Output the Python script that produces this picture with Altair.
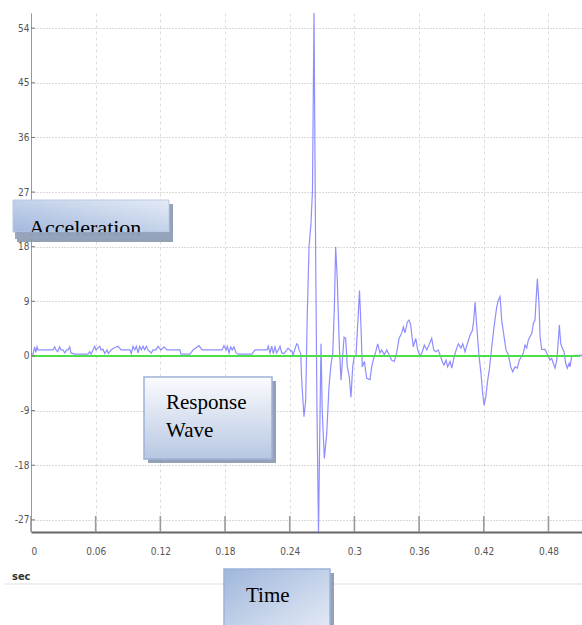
import altair as alt
import pandas as pd

# ---------------- data ----------------
time_s = [
    0.0000, 0.0019, 0.0034, 0.0044, 0.0056, 0.0065, 0.0204, 0.0220, 0.0232, 0.0248,
    0.0266, 0.0278, 0.0297, 0.0313, 0.0331, 0.0343, 0.0359, 0.0371, 0.0405, 0.0510,
    0.0529, 0.0545, 0.0557, 0.0575, 0.0591, 0.0603, 0.0619, 0.0637, 0.0649, 0.0668,
    0.0684, 0.0705, 0.0717, 0.0742, 0.0770, 0.0807, 0.0835, 0.0918, 0.0930, 0.0946,
    0.0962, 0.0977, 0.0993, 0.1008, 0.1023, 0.1039, 0.1054, 0.1070, 0.1085, 0.1116,
    0.1132, 0.1160, 0.1178, 0.1206, 0.1234, 0.1262, 0.1382, 0.1391, 0.1475, 0.1503,
    0.1558, 0.1586, 0.1772, 0.1790, 0.1809, 0.1821, 0.1837, 0.1852, 0.1867, 0.1883,
    0.1902, 0.1920, 0.2050, 0.2078, 0.2190, 0.2201, 0.2217, 0.2233, 0.2248, 0.2263,
    0.2279, 0.2294, 0.2310, 0.2326, 0.2347, 0.2384, 0.2412,
    0.2421, 0.2430, 0.2449, 0.2465, 0.2477, 0.2486, 0.2502, 0.2511, 0.2532, 0.2548,
    0.2563, 0.2579, 0.2597, 0.2611, 0.2625, 0.2641, 0.2653, 0.2667, 0.2681, 0.2690,
    0.2702, 0.2721, 0.2743, 0.2764, 0.2783, 0.2799, 0.2814, 0.2826, 0.2841, 0.2860,
    0.2876, 0.2891, 0.2904, 0.2919, 0.2934, 0.2953, 0.2968, 0.2984, 0.2999, 0.3015,
    0.3036, 0.3047, 0.3061, 0.3073, 0.3092, 0.3114, 0.3145, 0.3160, 0.3175, 0.3198,
    0.3216, 0.3237, 0.3253, 0.3277, 0.3300, 0.3321, 0.3346, 0.3370, 0.3392, 0.3414,
    0.3439, 0.3454, 0.3469, 0.3491, 0.3506, 0.3522, 0.3534, 0.3546, 0.3569, 0.3587,
    0.3609, 0.3630, 0.3648, 0.3671, 0.3692, 0.3717, 0.3736, 0.3757, 0.3776, 0.3794,
    0.3815, 0.3831, 0.3850, 0.3865, 0.3887, 0.3903, 0.3927, 0.3949, 0.3964, 0.3989,
    0.4005, 0.4026, 0.4047, 0.4072, 0.4094, 0.4107, 0.4119, 0.4135, 0.4156, 0.4174,
    0.4190, 0.4202, 0.4218, 0.4237, 0.4251, 0.4274, 0.4295, 0.4320, 0.4335, 0.4351,
    0.4366, 0.4388, 0.4406, 0.4428, 0.4450, 0.4468, 0.4490, 0.4511, 0.4530, 0.4552,
    0.4567, 0.4583, 0.4598, 0.4613, 0.4629, 0.4645, 0.4660, 0.4675, 0.4685, 0.4697,
    0.4712, 0.4722, 0.4737, 0.4768, 0.4784, 0.4799, 0.4814, 0.4830, 0.4845, 0.4861,
    0.4877, 0.4891, 0.4901, 0.4914, 0.4929, 0.4944, 0.4960, 0.4975, 0.4991, 0.5000,
    0.5016, 0.5046, 0.5111,
]
accel = [
    0.3, 0.3, 1.5, 0.6, 1.5, 1.0, 1.0, 1.5, 1.0, 0.7,
    1.5, 1.0, 1.0, 0.5, 1.0, 1.0, 1.5, 0.5, 0.3, 0.3,
    0.3, 0.7, 0.3, 1.0, 1.6, 1.0, 1.3, 1.6, 1.0, 1.1,
    0.4, 1.0, 0.4, 1.0, 1.3, 1.6, 1.0, 1.0, 0.4, 1.6,
    1.0, 1.6, 0.5, 1.6, 1.0, 1.6, 1.0, 1.6, 1.0, 0.5,
    1.0, 1.0, 1.6, 1.0, 1.5, 1.0, 1.0, 0.3, 0.3, 1.0,
    1.7, 1.0, 1.0, 1.7, 1.0, 1.6, 0.5, 1.5, 1.0, 1.5,
    0.5, 0.3, 0.3, 1.0, 1.0, 1.6, 0.5, 1.6, 0.4, 1.5,
    0.5, 1.0, 1.6, 0.5, 0.4, 1.3, 0.8,
    0.8, 0.1, 1.2, 2.0, 1.8, 1.0, 0.4, -4.0, -10.0, -7.3,
    7.0, 18.0, 21.8, 27.3, 56.5, 15.3, -9.5, -29.0, -9.5, 2.0,
    -9.5, -16.9, -12.8, -5.1, -1.3, 0.4, 8.1, 18.0, 12.5, 1.5,
    -4.0, 0.0, 3.1, 2.9, -1.8, -3.5, -6.8, -1.8, 0.0, 0.1,
    7.0, 10.8, 4.8, -1.8, -0.9, -3.7, -3.9, -1.8, -0.7, 0.7,
    2.0, 0.5, 1.0, 0.2, 1.0, 0.2, -0.7, -0.9, 0.5, 2.9,
    3.8, 4.8, 3.8, 5.6, 5.9, 5.1, 3.2, 1.5, 2.9, 1.0,
    0.0, 0.7, 1.8, 1.0, 1.8, 2.9, 1.0, 0.7, 1.0, 0.2,
    -0.9, -1.5, -0.7, -1.8, -0.9, -2.0, 0.0, 1.3, 2.0, 1.3,
    2.0, 0.7, 2.0, 3.4, 4.2, 5.9, 8.9, 4.8, 0.0, -2.9,
    -6.2, -8.1, -6.8, -3.9, -2.3, 1.5, 4.8, 8.1, 9.2, 9.8,
    5.9, 3.2, 1.0, 0.2, -1.8, -2.6, -1.8, -2.0, -0.7, 0.0,
    0.5, 1.8, 1.3, 2.6, 3.2, 3.7, 5.4, 5.9, 9.2, 12.7,
    8.6, 3.2, 1.1, 1.1, 0.5, 0.0, -0.7, -0.4, -1.2, -2.0,
    -0.7, 2.4, 5.1, 2.0, 1.3, 0.7, -1.2, -2.0, -1.2, -1.8,
    0.0, 0.1, 0.1,
]
x_ticks = [0, 0.06, 0.12, 0.18, 0.24, 0.3, 0.36, 0.42, 0.48]
y_ticks = [-27, -18, -9, 0, 9, 18, 27, 36, 45, 54]
x_domain = [0, 0.5111]
y_domain = [-29, 56.5]
baseline_value = [0]
unit_label = ["sec"]
box_titles = ["Acceleration", "Response", "Wave", "Time"]

# ---------------- layout ----------------
W, H = 551, 519
LABEL_FONT = "'DejaVu Sans Condensed', 'Liberation Sans Narrow', 'Liberation Sans', sans-serif"
SERIF = "Liberation Serif"

df = pd.DataFrame({"t": time_s, "a": accel})
xs = alt.Scale(domain=x_domain, nice=False, zero=False)
ys = alt.Scale(domain=y_domain, nice=False, zero=False)

x_axis = alt.Axis(
    values=x_ticks, format="~g", grid=True, gridColor="#dddddd", gridDash=[3, 3],
    ticks=False, labelPadding=14, labelFont=LABEL_FONT, labelFontSize=10,
    labelColor="#555555", domainColor="#666666", domainWidth=2, title=None)
y_axis = alt.Axis(
    values=y_ticks, grid=True, gridColor="#b5b5b5", gridDash=[1, 2],
    ticks=False, labelPadding=2,
    labelExpr="datum.value < 0 ? '-' + abs(datum.value) : '' + datum.value",
    labelFont=LABEL_FONT, labelFontSize=10, labelColor="#555555",
    domainColor="#999999", domainWidth=1, title=None)

wave = alt.Chart(df).mark_line(color="#6262ff", strokeWidth=1.2, opacity=0.72, clip=True).encode(
    x=alt.X("t:Q", scale=xs, axis=x_axis),
    y=alt.Y("a:Q", scale=ys, axis=y_axis),
)

zero = alt.Chart(pd.DataFrame({"v": baseline_value})).mark_rule(color="#4be04b", strokeWidth=2).encode(
    y=alt.Y("v:Q", scale=ys, axis=y_axis), x=alt.value(0), x2=alt.value(549))

xtickmarks = alt.Chart(pd.DataFrame({"t": x_ticks})).mark_rule(color="#999999", strokeWidth=1.6).encode(
    x=alt.X("t:Q", scale=xs, axis=x_axis), y=alt.value(H), y2=alt.value(H - 16))

ytickmarks = alt.Chart(pd.DataFrame({"v": y_ticks})).mark_rule(color="#777777", strokeWidth=1).encode(
    y=alt.Y("v:Q", scale=ys, axis=y_axis), x=alt.value(0), x2=alt.value(4))

one = alt.Data(values=[{"k": 1}])


def rect(x, x2, y, y2, **kw):
    return alt.Chart(one).mark_rect(**kw).encode(
        x=alt.value(x), x2=alt.value(x2), y=alt.value(y), y2=alt.value(y2))


def txt(s, x, y, **kw):
    return alt.Chart(one).mark_text(text=s, align="left", baseline="alphabetic", **kw).encode(
        x=alt.value(x), y=alt.value(y))


def grad(c1, c2, x1, y1, x2, y2):
    return alt.LinearGradient(
        gradient="linear",
        stops=[alt.GradientStop(offset=0, color=c1), alt.GradientStop(offset=1, color=c2)],
        x1=x1, y1=y1, x2=x2, y2=y2)


SHADOW = "#8391a8"

# Acceleration box
acc_shadow = rect(-14, 142, 191, 229, color=SHADOW, opacity=0.85)
acc_box = rect(-18, 138, 187, 219, fill=grad("#a2b8dd", "#e4ebf6", 0, 1, 1, 0),
               stroke="#b9c9e3", strokeWidth=1)
acc_text = txt(box_titles[0], -2, 222, font=SERIF, fontSize=22, color="black")
acc_band = rect(-16, 140, 219, 226, color="#95a4bd", opacity=0.95)

# Response Wave box
rw_shadow = rect(117, 245, 368, 450, color=SHADOW, opacity=0.85)
rw_box = rect(113, 241, 364, 446, fill=grad("#fbfcfe", "#b7c7e2", 0, 0, 0, 1),
              stroke="#9db3d8", strokeWidth=1.5)
rw_text1 = txt(box_titles[1], 135, 396, font=SERIF, fontSize=21, color="black")
rw_text2 = txt(box_titles[2], 135, 424, font=SERIF, fontSize=21, color="black")

# Time box
tm_shadow = rect(197, 303, 560, 620, color=SHADOW, opacity=0.85)
tm_box = rect(193, 299, 556, 620, fill=grad("#9fb6dc", "#e6ecf6", 0, 0, 1, 1),
              stroke="#9db3d8", strokeWidth=1.5)
tm_text = txt(box_titles[3], 215, 589, font=SERIF, fontSize=21, color="black")

# "sec" unit label and separator line
sec_text = txt(unit_label[0], -19, 567, font=LABEL_FONT, fontSize=11, fontWeight="bold", color="#333333")
sep = alt.Chart(one).mark_rule(color="#dddddd", strokeWidth=1).encode(
    x=alt.value(-26), x2=alt.value(551), y=alt.value(571))

chart = alt.layer(
    wave, zero, xtickmarks, ytickmarks, sep, sec_text,
    acc_shadow, acc_box, acc_text, acc_band,
    rw_shadow, rw_box, rw_text1, rw_text2,
    tm_shadow, tm_box, tm_text,
).properties(
    width=W, height=H,
    padding={"left": 31, "top": 13, "right": 0, "bottom": 93},
    autosize=alt.AutoSizeParams(type="none"),
    background="white",
).configure_view(stroke=None)

chart.save("out.html", embed_options={"renderer": "svg", "actions": False})
